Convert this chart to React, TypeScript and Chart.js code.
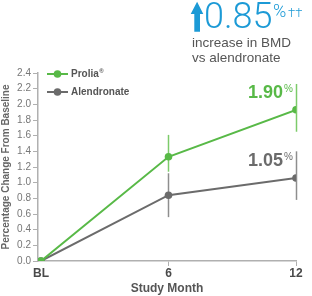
import React, { useEffect, useRef } from 'react';
import { Chart, registerables } from 'chart.js';

Chart.register(...registerables);

// ---- data ----
const months = [0, 6, 12];
const monthLabels = ['BL', '6', '12'];
const seriesNames = ['Prolia', 'Alendronate'];
const seriesMarks = ['®', ''];
const proliaValues = [0, 1.33, 1.93];
const alendronateValues = [0, 0.84, 1.06];
const proliaErrLow = [null, 1.14, 1.65];
const proliaErrHigh = [null, 1.61, 2.26];
const alendronateErrLow = [null, 0.56, 0.78];
const alendronateErrHigh = [null, 1.12, 1.4];
const endLabels = ['1.90', '1.05'];
const headlineValue = '0.85';
const headlineLines = ['increase in BMD', 'vs alendronate'];

const GREEN = '#58b947';
const GREEN_ERR = '#7ccb6a';
const GREY = '#6b6b6b';
const GREY_ERR = '#8e8e8e';
const BLUE = '#1c9ad6';
const AXIS = '#b0b0b0';
const FONT = '"Liberation Sans", Arial, sans-serif';

const seriesValues = [proliaValues, alendronateValues];
const seriesColors = [GREEN, GREY];
const errColors = [GREEN_ERR, GREY_ERR];
const errLows = [proliaErrLow, alendronateErrLow];
const errHighs = [proliaErrHigh, alendronateErrHigh];

const overlayPlugin = {
  id: 'overlay',
  beforeDatasetsDraw(chart: any) {
    const { ctx } = chart;
    const x = chart.scales.x;
    const y = chart.scales.y;
    ctx.save();
    ctx.lineWidth = 1.5;
    for (let s = seriesValues.length - 1; s >= 0; s--) {
      ctx.strokeStyle = errColors[s];
      for (let i = 0; i < months.length; i++) {
        const lo = errLows[s][i];
        const hi = errHighs[s][i];
        if (lo == null || hi == null) continue;
        const px = Math.round(x.getPixelForValue(months[i])) + 0.5;
        ctx.beginPath();
        ctx.moveTo(px, y.getPixelForValue(lo));
        ctx.lineTo(px, y.getPixelForValue(hi));
        ctx.stroke();
      }
    }
    ctx.restore();
  },
  afterDatasetsDraw(chart: any) {
    const { ctx, chartArea } = chart;
    const x = chart.scales.x;
    const y = chart.scales.y;
    ctx.save();
    // legend
    for (let i = 0; i < seriesNames.length; i++) {
      const ly = chartArea.top + 1 + i * 18;
      const x0 = chartArea.left + 9;
      ctx.strokeStyle = seriesColors[i];
      ctx.lineWidth = 2;
      ctx.beginPath();
      ctx.moveTo(x0, ly);
      ctx.lineTo(x0 + 21, ly);
      ctx.stroke();
      ctx.fillStyle = seriesColors[i];
      ctx.beginPath();
      ctx.arc(x0 + 10.5, ly, 3.8, 0, Math.PI * 2);
      ctx.fill();
      ctx.fillStyle = '#555';
      ctx.font = 'bold 10px ' + FONT;
      ctx.textBaseline = 'middle';
      ctx.textAlign = 'left';
      ctx.fillText(seriesNames[i], x0 + 24, ly);
      if (seriesMarks[i]) {
        const w = ctx.measureText(seriesNames[i]).width;
        ctx.font = 'bold 6px ' + FONT;
        ctx.fillText(seriesMarks[i], x0 + 24 + w + 0.5, ly - 3);
      }
    }
    // end labels
    const last = months.length - 1;
    for (let i = 0; i < endLabels.length; i++) {
      const px = x.getPixelForValue(months[last]);
      const py = y.getPixelForValue(seriesValues[i][last]);
      ctx.fillStyle = seriesColors[i];
      ctx.font = 'bold 18px ' + FONT;
      ctx.textAlign = 'right';
      ctx.textBaseline = 'alphabetic';
      const base = py - 12;
      ctx.fillText(endLabels[i], px - 13, base);
      ctx.font = '10px ' + FONT;
      ctx.textAlign = 'left';
      ctx.fillText('%', px - 12, base - 5.5);
    }
    ctx.restore();
  },
};

export default function App() {
  const canvasRef = useRef<HTMLCanvasElement | null>(null);

  useEffect(() => {
    document.body.style.margin = '0';
    const canvas = canvasRef.current;
    if (!canvas) return;
    const chart = new Chart(canvas, {
      type: 'line',
      data: {
        datasets: seriesNames.map((name, s) => ({
          label: name + seriesMarks[s],
          data: months.map((m, i) => ({ x: m, y: seriesValues[s][i] })),
          borderColor: seriesColors[s],
          backgroundColor: seriesColors[s],
          borderWidth: 2,
          pointRadius: 3.8,
          pointHoverRadius: 3.8,
          pointBorderWidth: 0,
          tension: 0,
        })),
      },
      options: {
        responsive: false,
        animation: false,
        devicePixelRatio: 1,
        layout: { padding: { top: 73, right: 16, left: 0, bottom: 0 } },
        plugins: {
          legend: { display: false },
          tooltip: { enabled: false },
        },
        scales: {
          x: {
            type: 'linear',
            min: -0.14,
            max: 12,
            afterBuildTicks: (s: any) => {
              s.ticks = months.map((m) => ({ value: m }));
            },
            afterFit: (s: any) => {
              s.height = 35;
            },
            ticks: {
              callback: (v: any) => {
                const idx = months.indexOf(Number(v));
                return idx >= 0 ? monthLabels[idx] : '';
              },
              font: { family: FONT, size: 12, weight: 'bold' },
              color: '#4a4a4a',
              padding: 0,
              maxRotation: 0,
              autoSkip: false,
            },
            grid: {
              drawOnChartArea: false,
              drawTicks: true,
              tickLength: 5,
              tickColor: (c: any) => (c.index === 0 ? 'rgba(0,0,0,0)' : AXIS),
            },
            border: { color: AXIS, width: 1.5 },
            title: {
              display: true,
              text: 'Study Month',
              font: { family: FONT, size: 12, weight: 'bold' },
              color: '#555',
              padding: { top: 0, bottom: 0 },
            },
          },
          y: {
            min: 0,
            max: 2.4,
            afterFit: (s: any) => {
              s.width = 38;
            },
            ticks: {
              stepSize: 0.2,
              callback: (v: any) => Number(v).toFixed(1),
              font: { family: FONT, size: 10 },
              color: '#777',
              padding: 2,
            },
            grid: {
              drawOnChartArea: false,
              drawTicks: true,
              tickLength: 5,
              tickColor: AXIS,
            },
            border: { color: AXIS, width: 1.5 },
            title: {
              display: true,
              text: 'Percentage Change From Baseline',
              font: { family: FONT, size: 10, weight: 'bold' },
              color: '#666',
              padding: { top: 0, bottom: 0 },
            },
          },
        },
      },
      plugins: [overlayPlugin],
    } as any);
    return () => chart.destroy();
  }, []);

  return (
    <div style={{ position: 'relative', width: 312, height: 296 }}>
      <canvas ref={canvasRef} width={312} height={296} style={{ display: 'block', width: 312, height: 296 }} />
      <svg
        width={312}
        height={70}
        style={{ position: 'absolute', left: 0, top: 0, pointerEvents: 'none' }}
      >
        <polygon
          points="190.7,14 197.1,1.7 203.3,14 200,14 200,31.7 194.3,31.7 194.3,14"
          fill={BLUE}
        />
        <text x={204} y={28.3} fill={BLUE} fontFamily="Roboto, sans-serif" fontWeight={300} fontSize={36}>
          {headlineValue}
        </text>
        <text x={273} y={17} fill={BLUE} fontFamily="Roboto, sans-serif" fontWeight={300} fontSize={18}>
          %
        </text>
        <text x={288} y={17} fill={BLUE} fontFamily="Roboto, sans-serif" fontWeight={300} fontSize={13}>
          ††
        </text>
        {headlineLines.map((t, i) => (
          <text key={i} x={192} y={47 + i * 15} fill="#555" fontFamily={FONT} fontSize={13.5}>
            {t}
          </text>
        ))}
      </svg>
    </div>
  );
}
